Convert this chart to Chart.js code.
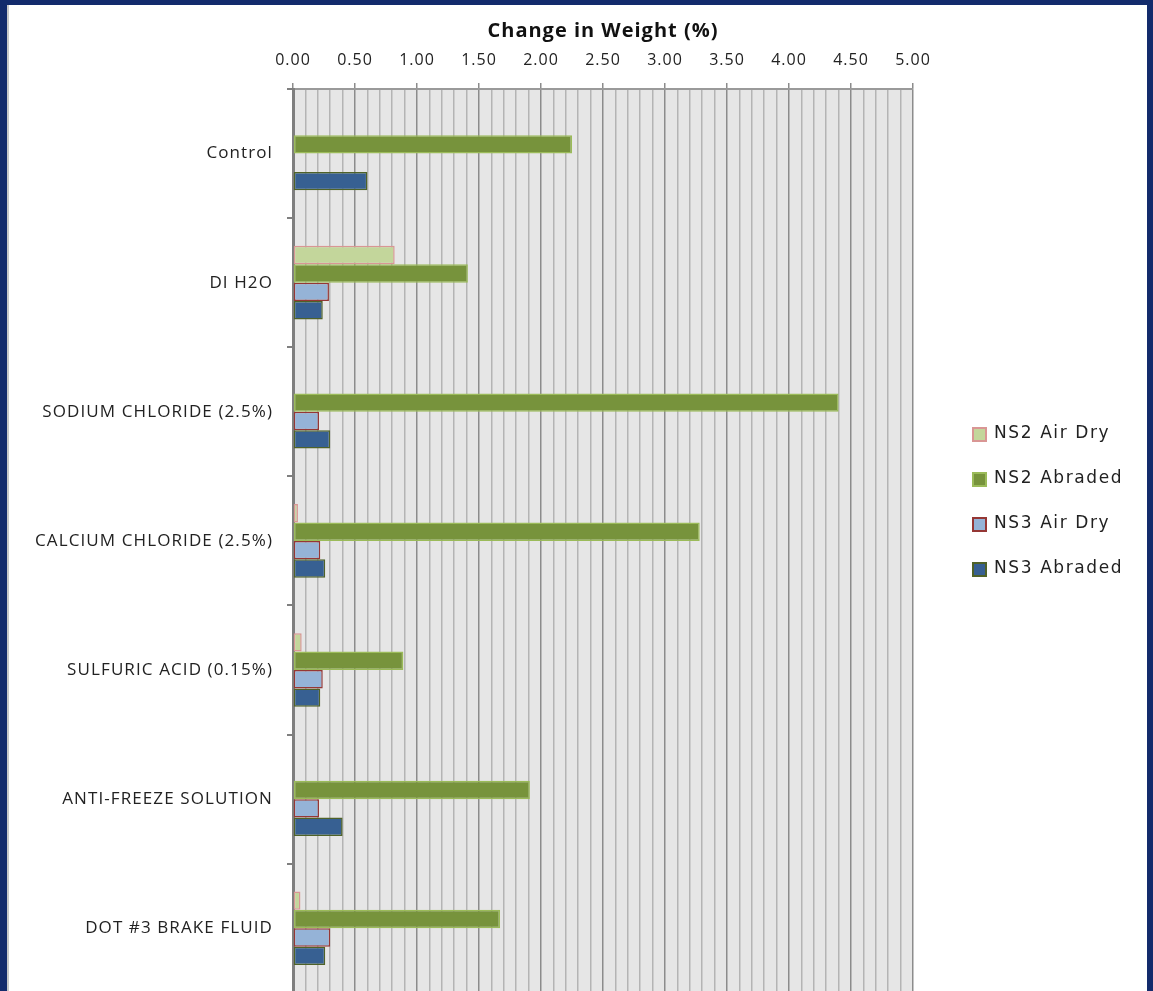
<!DOCTYPE html>
<html>
<head>
<meta charset="utf-8">
<script src="https://cdn.jsdelivr.net/npm/chart.js@4"></script>
<style>
  html, body { margin: 0; padding: 0; overflow: hidden; }
  body { width: 1153px; height: 991px; background: #132b6c; position: relative; }
  .slide { position: absolute; left: 7px; top: 5px; width: 1140px; height: 1000px; background: #fff; border-left: 2px solid #c8c8c8; box-sizing: border-box; }
  .chart-box { position: absolute; left: 7px; top: 5px; width: 1140px; height: 1012px; }
  .legend { position: absolute; left: 972px; top: 422px; font-family: "DejaVu Sans", sans-serif; font-size: 17px; letter-spacing: 1.6px; color: #222; }
  .legend div { height: 45px; display: flex; align-items: flex-start; }
  .legend span.box { display: inline-block; width: 11px; height: 11px; margin: 5px 7px 0 0; border: 2px solid; }
</style>
</head>
<body>
<div class="slide"></div>
<div class="chart-box"><canvas id="weightChart"></canvas></div>
<div class="legend" id="legend"></div>
<script>
const categories = ['Control', 'DI H2O', 'SODIUM CHLORIDE (2.5%)', 'CALCIUM CHLORIDE (2.5%)',
  'SULFURIC ACID (0.15%)', 'ANTI-FREEZE SOLUTION', 'DOT #3 BRAKE FLUID'];
const seriesNames = ['NS2 Air Dry', 'NS2 Abraded', 'NS3 Air Dry', 'NS3 Abraded'];
const ns2AirDry   = [0,    0.82, 0,    0.04, 0.07, 0,    0.06];
const ns2Abraded  = [2.25, 1.41, 4.40, 3.28, 0.89, 1.91, 1.67];
const ns3AirDry   = [0,    0.29, 0.21, 0.22, 0.24, 0.21, 0.30];
const ns3Abraded  = [0.60, 0.24, 0.30, 0.26, 0.22, 0.40, 0.26];
const xMin = 0, xMax = 5, xStep = 0.1;

const fills   = ['#c3d69b', '#77933c', '#95b3d7', '#376092'];
const borders = ['#d99694', '#9bbb59', '#953735', '#4f6228'];
const values  = [ns2AirDry, ns2Abraded, ns3AirDry, ns3Abraded];

const datasets = seriesNames.map((name, i) => ({
  label: name,
  data: values[i],
  backgroundColor: fills[i],
  borderColor: borders[i],
  borderWidth: 1.5,
  borderSkipped: false,
  barPercentage: 1,
  categoryPercentage: 0.57
}));

// grey plot background
const plotBg = {
  id: 'plotBg',
  beforeDraw(chart) {
    const { ctx, chartArea: a } = chart;
    ctx.save();
    ctx.fillStyle = '#e6e6e6';
    ctx.fillRect(a.left, a.top, a.right - a.left, a.bottom - a.top);
    ctx.restore();
  }
};

const chart = new Chart(document.getElementById('weightChart'), {
  type: 'bar',
  data: { labels: categories, datasets: datasets },
  plugins: [plotBg],
  options: {
    indexAxis: 'y',
    responsive: true,
    maintainAspectRatio: false,
    animation: false,
    layout: { padding: { left: 0, top: 0, right: 234, bottom: 5 } },
    plugins: { legend: { display: false }, tooltip: { enabled: false } },
    scales: {
      x: {
        position: 'top',
        min: xMin,
        max: xMax,
        afterFit(scale) { scale.height = 84; },
        title: {
          display: true,
          text: 'Change in Weight (%)',
          color: '#111',
          font: { family: '"Open Sans", sans-serif', size: 20, weight: 'bold' },
          padding: { top: 14, bottom: 4 }
        },
        ticks: {
          stepSize: xStep,
          maxTicksLimit: 100,
          autoSkip: false,
          maxRotation: 0,
          color: '#222',
          font: { family: '"Open Sans", sans-serif', size: 16 },
          padding: 13,
          callback: (v, i) => (i % 5 === 0 ? (i * xStep).toFixed(2) : '')
        },
        grid: {
          color: ctx => (ctx.index % 5 === 0 ? '#8c8c8c' : '#b4b4b4'),
          lineWidth: 1.5,
          tickColor: ctx => (ctx.index % 5 === 0 ? '#8c8c8c' : 'rgba(0,0,0,0)'),
          tickLength: 6
        },
        border: { color: '#9a9a9a', width: 2 }
      },
      y: {
        afterFit(scale) { scale.width = 286; },
        ticks: {
          color: '#222',
          font: { family: '"Open Sans", sans-serif', size: 17 },
          padding: 14
        },
        grid: {
          offset: true,
          drawOnChartArea: false,
          color: '#7f7f7f',
          lineWidth: 2,
          tickLength: 6
        },
        border: { color: '#7f7f7f', width: 3 }
      }
    }
  }
});

// wider letter spacing for axis text
function spaced(scale, method, px) {
  const orig = scale[method];
  scale[method] = function (...args) {
    this.ctx.letterSpacing = px;
    orig.apply(this, args);
    this.ctx.letterSpacing = '0px';
  };
}
spaced(chart.scales.y, 'drawLabels', '1.1px');
spaced(chart.scales.x, 'drawLabels', '1px');
spaced(chart.scales.x, 'drawTitle', '1px');
chart.draw();

// legend built from the chart's datasets
const legendEl = document.getElementById('legend');
chart.data.datasets.forEach(ds => {
  const row = document.createElement('div');
  const box = document.createElement('span');
  box.className = 'box';
  box.style.background = ds.backgroundColor;
  box.style.borderColor = ds.borderColor;
  row.appendChild(box);
  row.appendChild(document.createTextNode(ds.label));
  legendEl.appendChild(row);
});
</script>
</body>
</html>
